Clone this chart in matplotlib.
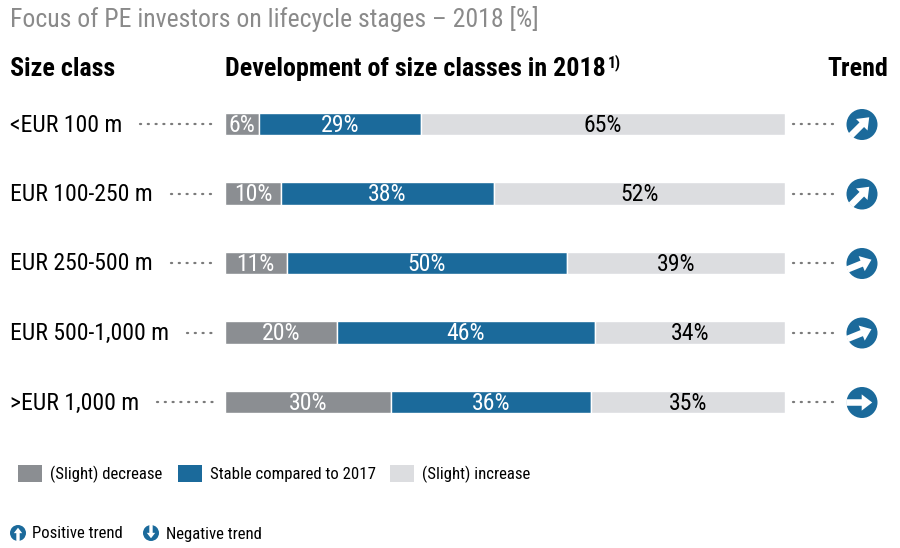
import numpy as np
import matplotlib
matplotlib.use("Agg")
import matplotlib.pyplot as plt
from matplotlib import font_manager as fm
from matplotlib.patches import Circle, FancyArrow, Rectangle

# ---------------- data ----------------
size_classes = ["<EUR 100 m", "EUR 100-250 m", "EUR 250-500 m", "EUR 500-1,000 m", ">EUR 1,000 m"]
decrease = [6, 10, 11, 20, 30]
stable = [29, 38, 50, 46, 36]
increase = [65, 52, 39, 34, 35]
trend_angles = [45, 45, 22, 22, 0]   # direction of trend arrow (degrees above horizontal)
series_names = ["(Slight) decrease", "Stable compared to 2017", "(Slight) increase"]
trend_legend = ["Positive trend", "Negative trend"]

title = "Focus of PE investors on lifecycle stages \u2013 2018 [%]"
col_headers = ["Size class", "Development of size classes in 2018", "Trend"]
footnote_mark = "1)"

# ---------------- fonts ----------------
prefs = ['Liberation Sans Narrow', 'Arial Narrow', 'Roboto Condensed', 'Archivo Narrow',
         'PT Sans Narrow', 'Fira Sans Condensed', 'Barlow Semi Condensed']
avail = {}
for f in fm.fontManager.ttflist:
    avail.setdefault(f.name, set()).add(f.weight if isinstance(f.weight, int) else 400)
reg_font = next((p for p in prefs if p in avail), 'Liberation Sans')
bold_font = next((p for p in prefs if p in avail and any(w >= 700 for w in avail[p])), reg_font)
plt.rcParams['font.family'] = [reg_font, 'DejaVu Sans']

# ---------------- style ----------------
C_DEC = "#8b8e92"
C_STA = "#1b6a9b"
C_INC = "#dcdde0"
C_ICON = "#1b6a9b"
C_DOT = "#7a7a7a"
W, H = 900, 548

fig = plt.figure(figsize=(W / 100, H / 100), dpi=100)
renderer = fig.canvas.get_renderer()


def fit_size(s, target_px, bold=False):
    t = fig.text(0, 0, s, fontsize=20, fontweight="bold" if bold else "normal",
                 family=[bold_font if bold else reg_font, 'DejaVu Sans'])
    w = t.get_window_extent(renderer).width
    t.remove()
    return 20 * target_px / w


fs_title = fit_size(title, 530)
fs_head = fit_size(col_headers[0], 105, bold=True)
fs_row = fit_size(size_classes[0], 112)
fs_leg = fit_size(series_names[0], 112)
fs_leg2 = fit_size(trend_legend[0], 91)

# overlay axes in pixel coordinates
ov = fig.add_axes([0, 0, 1, 1])
ov.set_xlim(0, W)
ov.set_ylim(H, 0)
ov.axis("off")

# bar axes
bx_l, bx_r = 225, 785
by_t, by_b = 89.25, 436.75
ax = fig.add_axes([bx_l / W, 1 - by_b / H, (bx_r - bx_l) / W, (by_b - by_t) / H])
n = len(size_classes)
y = np.arange(n)
dec = np.array(decrease, float)
sta = np.array(stable, float)
inc = np.array(increase, float)
tot = dec + sta + inc
d_n, s_n, i_n = dec / tot * 100, sta / tot * 100, inc / tot * 100
bh = 0.32
ax.barh(y, d_n, height=bh, color=C_DEC, edgecolor="white", linewidth=1)
ax.barh(y, s_n, left=d_n, height=bh, color=C_STA, edgecolor="white", linewidth=1)
ax.barh(y, i_n, left=d_n + s_n, height=bh, color=C_INC, edgecolor="white", linewidth=1)
ax.set_xlim(0, 100)
ax.set_ylim(n - 0.5, -0.5)
ax.axis("off")

for i in range(n):
    ax.text(d_n[i] / 2, y[i] + 0.02, f"{decrease[i]}%", ha="center", va="center", color="white", fontsize=fs_row)
    ax.text(d_n[i] + s_n[i] / 2, y[i] + 0.02, f"{stable[i]}%", ha="center", va="center", color="white", fontsize=fs_row)
    ax.text(d_n[i] + s_n[i] + i_n[i] / 2, y[i] + 0.02, f"{increase[i]}%", ha="center", va="center", color="black", fontsize=fs_row)

# title and headers
ov.text(10, 19, title, ha="left", va="center", color="#8a8a8a", fontsize=fs_title)
hfam = [bold_font, 'DejaVu Sans']
ov.text(10, 69, col_headers[0], ha="left", va="center", color="black", fontsize=fs_head,
        fontweight="bold", family=hfam)
h2 = ov.text(225, 69, col_headers[1], ha="left", va="center", color="black", fontsize=fs_head,
             fontweight="bold", family=hfam)
h2_right = h2.get_window_extent(renderer).x1
ov.text(h2_right + 2, 63, footnote_mark, ha="left", va="center", color="black",
        fontsize=fs_head * 0.6, fontweight="bold", family=hfam)
ov.text(888, 69, col_headers[2], ha="right", va="center", color="black", fontsize=fs_head,
        fontweight="bold", family=hfam)

# row labels, dotted leaders, icons
row_y = [124 + 69.5 * i for i in range(n)]


def draw_icon(cx, cy, r, ang):
    ov.add_patch(Circle((cx, cy), r, color=C_ICON, zorder=3, linewidth=0))
    a = np.deg2rad(ang)
    dx, dy = np.cos(a), -np.sin(a)
    tx, ty = cx - 1.02 * r * dx, cy - 1.02 * r * dy
    L = 1.68 * r
    ov.add_patch(FancyArrow(tx, ty, L * dx, L * dy, width=0.42 * r, head_width=1.05 * r,
                            head_length=0.68 * r, length_includes_head=True,
                            color="white", zorder=4, linewidth=0))


dot_style = dict(color=C_DOT, linewidth=1.6, linestyle=(0, (0.5, 3.0)), dash_capstyle="round")
for i in range(n):
    yy = row_y[i]
    t = ov.text(10, yy + 1, size_classes[i], ha="left", va="center", color="black", fontsize=fs_row)
    x_end = t.get_window_extent(renderer).x1
    ov.plot([x_end + 18, 215], [yy, yy], **dot_style)
    ov.plot([793, 838], [yy, yy], **dot_style)
    draw_icon(862, yy + 0.5, 15.5, trend_angles[i])

# legend
leg_colors = [C_DEC, C_STA, C_INC]
leg_x = [18, 178, 390]
for lx, c, name in zip(leg_x, leg_colors, series_names):
    ov.add_patch(Rectangle((lx, 465), 24, 17, color=c, linewidth=0))
    ov.text(lx + 32, 474, name, ha="left", va="center", color="black", fontsize=fs_leg)

draw_icon(18, 533, 8, 90)
ov.text(32, 534, trend_legend[0], ha="left", va="center", color="black", fontsize=fs_leg2)
draw_icon(151, 533, 8, -90)
ov.text(166, 534, trend_legend[1], ha="left", va="center", color="black", fontsize=fs_leg2)

fig.savefig("out.png", dpi=100)
